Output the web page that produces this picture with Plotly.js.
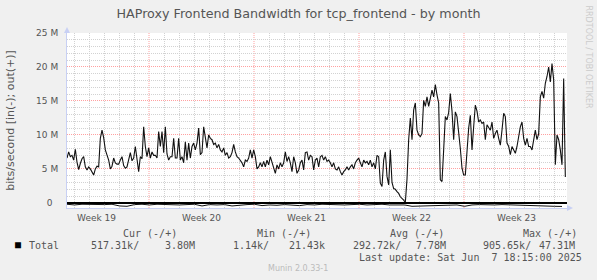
<!DOCTYPE html>
<html><head><meta charset="utf-8">
<script src="https://cdn.plot.ly/plotly-3.0.1.min.js"></script>
<style>html,body{margin:0;padding:0;background:#F0F0F0;}</style>
</head><body><div id="chart" style="width:597px;height:280px;"></div>
<script>
// ---- data (bits/second, in millions) ----
const startTime = '2025-05-05T12:48:00Z';
const endTime = '2025-06-07T20:48:00Z';
const outSampleMinutes = 160;
const outMbps = [
6.6,7.5,6.8,7.0,6.3,7.9,6.0,4.9,5.8,6.5, 6.8,5.3,4.85,5.3,5.0,4.6,4.1,5.0,5.4,5.3,
9.5,10.7,9.6,7.8,7.0,6.3,5.0,5.4,6.6,5.9, 5.7,5.7,6.3,6.8,5.5,5.1,5.3,6.6,7.4,6.2,
6.6,8.3,6.2,4.6,6.8,6.5,11.2,8.3,6.8,8.1, 6.6,7.5,7.0,7.0,6.6,10.5,8.3,10.5,7.4,11.2,
7.2,6.3,6.8,6.8,9.5,6.6,6.6,9.5,6.3,6.8, 5.9,9.0,6.3,
8.8,6.6,8.3,8.8,7.8,8.8,11.0,7.1,7.4,11.2, 9.75,8.1,10.0,9.5,9.3,8.6,8.8,8.1,8.6,7.8,
7.5,8.1,7.0,7.4,6.6,6.8,7.4,8.6,7.5,6.8, 6.6,6.3,5.9,5.3,6.3,6.1,6.6,7.8,6.6,7.8,
6.8,5.0,5.3,5.9,5.3,6.1,5.3,6.3,5.6,6.8, 5.9,5.3,4.35,5.6,5.0,5.9,5.3,5.9,7.5,6.1,
6.8,5.9,4.6,6.8,5.9,4.35,4.85,5.9,6.3,4.85, 7.4,7.5,6.3,7.0,6.8,
4.85,6.3,6.6,5.3,6.8,7.0,6.3,6.8,6.1,6.3, 5.9,5.3,5.9,5.0,4.85,5.3,4.6,4.1,4.6,4.85,
5.3,4.85,5.3,5.6,5.0,5.9,6.3,6.6,5.9,5.3, 6.3,5.9,6.1,5.6,6.3,5.3,5.9,5.0,7.0,6.8,
2.9,2.4,6.3,7.5,3.9,2.65,7.8,3.0,2.1,2.0, 1.65,1.4,0.9,0.7,0.4,0.05,3.5,9.3,12.5,9.3,
13.7,14.7,10.7,10.0,9.75,10.2,15.1,14.2,15.6,14.2, 15.4,16.6,15.6,17.4,15.9,
14.7,3.4,3.15,7.8,12.7,12.2,13.3,16.1,13.5,9.3, 13.4,12.7,10.7,8.0,5.1,4.1,4.1,7.8,11.0,12.9,
7.8,11.2,14.4,13.5,11.9,12.2,11.7,11.9,9.3,11.5, 11.0,10.7,11.9,9.5,10.2,10.7,9.5,8.5,10.7,13.2,
12.7,8.8,8.3,7.1,8.3,7.8,7.3,8.3,9.75,11.2, 11.9,9.5,8.5,9.5,8.3,8.3,7.8,9.5,10.7,9.3,
10.2,15.6,16.4,15.4,17.6,18.6,20.0,17.8,20.5,18.1, 5.6,10.0,9.3,7.8,5.6,18.3,3.8
];
const inSampleMinutes = 720;
const inMbps = [
-0.2,-0.3,-0.2,-0.25,-0.2,-0.25,-0.2,-0.45,-0.5,-0.25,
-0.2,-0.3,-0.2,-0.25,-0.2,-0.3,-0.25,-0.2,-0.45,-0.25,
-0.3,-0.25,-0.45,-0.3,-0.25,-0.2,-0.4,-0.3,-0.35,-0.25,
-0.3,-0.4,-0.25,-0.3,-0.2,-0.25,-0.2,-0.3,-0.25,-0.2,
-0.3,-0.25,-0.2,-0.3,-0.25,-0.3,-0.5,-0.45,-0.4,-0.45,
-0.4,-0.35,-0.3,-0.5,-0.3,-0.25,-0.3,-0.3,-0.25,-0.3,
-0.25,-0.3,-0.35,-0.45,-0.55,-0.5,-0.52
];
const weekBoundaries = ['2025-05-11','2025-05-18','2025-05-25','2025-06-01'];
const weekMids = ['2025-05-07 12:00','2025-05-14 12:00','2025-05-21 12:00','2025-05-28 12:00','2025-06-04 12:00'];
const weekLabels = ['Week 19','Week 20','Week 21','Week 22','Week 23'];
const yTickVals = [0,5,10,15,20,25];
const yTickText = ['0\u00a0\u00a0','5 M','10 M','15 M','20 M','25 M'];
const legendHeaders = ['Cur (-/+)','Min (-/+)','Avg (-/+)','Max (-/+)'];
const legendValues = [['517.31k/','3.80M'],['1.14k/','21.43k'],['292.72k/','7.78M'],['905.65k/','47.31M']];
const seriesName = 'Total';
const lastUpdate = 'Last update: Sat Jun\u00a0\u00a07 18:15:00 2025';

// ---- build ----
const DAY = 86400000;
const t0 = Date.parse(startTime);
const t1 = Date.parse(endTime);
const outX = outMbps.map((_, i) => t0 + i * outSampleMinutes * 60000);
const inX = inMbps.map((_, i) => t0 + i * inSampleMinutes * 60000);
const weekMs = weekBoundaries.map(d => Date.parse(d + 'T00:00:00Z'));
const dayLines = [];
for (let d = Math.ceil(t0 / DAY) * DAY; d <= t1; d += DAY) if (!weekMs.includes(d)) dayLines.push(d);
const yMinor = [];
for (let v = 1; v < 25; v++) if (v % 5 !== 0) yMinor.push(v);

const FG = '#555555';
const SANS = 'DejaVu Sans';
const MONO = 'DejaVu Sans Mono';
const AXC = '#C8D0F4';
const GRID = 'rgb(210,210,210)';
const MGRID = 'rgb(255,160,160)';
const DOT = '1px,1px';

const traces = [
  {x: inX, y: inMbps, type: 'scatter', mode: 'lines', line: {color: '#111', width: 1}, hoverinfo: 'skip', showlegend: false},
  {x: outX, y: outMbps, type: 'scatter', mode: 'lines', line: {color: '#111', width: 1.1}, hoverinfo: 'skip', showlegend: false}
];

const shapes = weekBoundaries.map(d => ({type: 'line', xref: 'x', yref: 'paper', x0: d, x1: d, y0: 0, y1: 1,
  line: {color: MGRID, width: 1, dash: DOT}, layer: 'between'}));
shapes.push({type: 'line', xref: 'paper', yref: 'y', x0: 0, x1: 1, y0: 0, y1: 0, line: {color: '#000', width: 2}});
// axis arrows
shapes.push({type: 'path', xref: 'paper', yref: 'paper', xsizemode: 'pixel', ysizemode: 'pixel', xanchor: 1, yanchor: 0,
  path: 'M 0 -3 L 6 0 L 0 3 Z', fillcolor: AXC, line: {width: 0}});
shapes.push({type: 'path', xref: 'paper', yref: 'paper', xsizemode: 'pixel', ysizemode: 'pixel', xanchor: 0, yanchor: 1,
  path: 'M -3 0 L 0 6 L 3 0 Z', fillcolor: AXC, line: {width: 0}});

const headerCenters = [150, 284, 417, 550];
const valLeft = [[89, 163], [231, 287], [351, 414], [481, 537]];
const W = 597, H = 280;
const L = 67, R = 30, T = 33, B = 72;
const annotations = [];
function note(text, x, y, xanchor, font, extra) {
  annotations.push(Object.assign({text: text, xref: 'paper', yref: 'paper',
    x: (x - L) / (W - L - R), y: 1 - (y - T) / (H - T - B),
    xanchor: xanchor, yanchor: 'middle', showarrow: false, font: font}, extra || {}));
}
const monoFont = {family: MONO, size: 10, color: FG};
legendHeaders.forEach((h, k) => note(h, headerCenters[k], 233.5, 'center', monoFont));
legendValues.forEach((pair, k) => pair.forEach((v, j) => note(v, valLeft[k][j], 245.5, 'left', monoFont)));
note('■', 13, 244.5, 'left', {family: MONO, size: 10, color: '#000'});
note(seriesName, 27, 245.5, 'left', monoFont);
note(lastUpdate, 584, 257, 'right', monoFont);
note('Munin 2.0.33-1', 298, 268.5, 'center', {family: SANS, size: 8, color: '#BBBBBB'});
note('RRDTOOL / TOBI OETIKER', 588, 56.5, 'center', {family: SANS, size: 8, color: '#CCCCCC'}, {textangle: 90});

const layout = {
  width: W, height: H,
  margin: {l: L, r: R, t: T, b: B, pad: 0},
  paper_bgcolor: '#F0F0F0', plot_bgcolor: '#FFFFFF',
  title: {text: 'HAProxy Frontend Bandwidth for tcp_frontend - by month', xref: 'container', x: 0.5, xanchor: 'center',
    yref: 'container', y: 1 - 13.5 / H, yanchor: 'middle', font: {family: SANS, size: 12.7, color: FG}},
  xaxis: {type: 'date', range: [t0, t1], tickmode: 'array', tickvals: weekMids, ticktext: weekLabels,
    showgrid: false, zeroline: false, showline: true, linecolor: AXC, linewidth: 1, ticks: '',
    tickfont: {family: SANS, size: 9, color: FG}, ticklabelstandoff: 1,
    minor: {tickmode: 'array', tickvals: dayLines, showgrid: true, gridcolor: GRID, griddash: DOT, gridwidth: 1, ticks: ''}},
  yaxis: {range: [-0.75, 25], tickmode: 'array', tickvals: yTickVals, ticktext: yTickText,
    showgrid: true, gridcolor: MGRID, griddash: DOT, gridwidth: 1, zeroline: false,
    showline: true, linecolor: AXC, linewidth: 1, ticks: '', ticklabelstandoff: 6,
    tickfont: {family: SANS, size: 9, color: FG},
    minor: {tickmode: 'array', tickvals: yMinor, showgrid: true, gridcolor: GRID, griddash: DOT, gridwidth: 1, ticks: ''},
    title: {text: 'bits/second [in(-); out(+)]', font: {family: SANS, size: 11, color: FG}, standoff: 19}},
  shapes: shapes,
  annotations: annotations,
  showlegend: false
};

Plotly.newPlot('chart', traces, layout, {displayModeBar: false, staticPlot: true});
</script>
</body></html>
